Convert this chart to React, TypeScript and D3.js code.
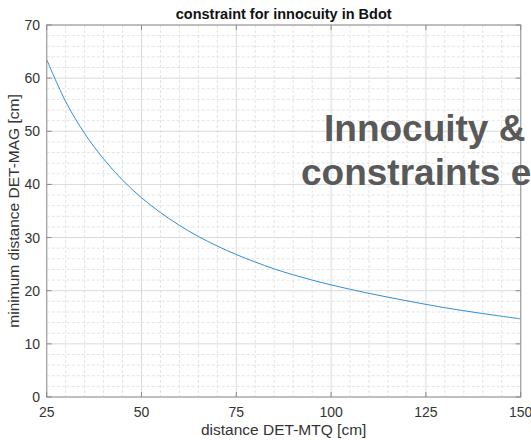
import React from "react";
import * as d3 from "d3";

const distances = [25, 30, 35, 40, 45, 50, 55, 60, 65, 70, 75, 80, 85, 90, 95, 100, 110, 120, 130, 140, 150];
const minDistances = [63.5, 55.6, 49.6, 44.8, 40.8, 37.5, 34.7, 32.3, 30.2, 28.4, 26.8, 25.4, 24.1, 23.0, 22.0, 21.1, 19.5, 18.1, 16.8, 15.7, 14.7];
const xTicks = [25, 50, 75, 100, 125, 150];
const yTicks = [0, 10, 20, 30, 40, 50, 60, 70];
const titleText = "constraint for innocuity in Bdot";
const xLabel = "distance DET-MTQ [cm]";
const yLabel = "minimum distance DET-MAG [cm]";
const overlayLines = ["Innocuity &", "constraints e"];

const W = 531;
const H = 440;
const L = 46.7, R = 520.7, T = 25, B = 397;
const FONT = "'Liberation Sans', Arial, Helvetica, sans-serif";

export default function App() {
  const x = d3.scaleLinear().domain([25, 150]).range([L, R]);
  const y = d3.scaleLinear().domain([0, 70]).range([B, T]);
  const minorX = d3.range(25, 150.01, 5).filter((v) => v % 25 !== 0);
  const minorY = d3.range(0, 70.01, 2).filter((v) => v % 10 !== 0);
  const line = d3
    .line<number>()
    .x((_, i) => x(distances[i]))
    .y((d) => y(d))
    .curve(d3.curveCatmullRom.alpha(0.5));

  return (
    <svg
      width={W}
      height={H}
      style={{ position: "absolute", left: 0, top: 0, background: "#fff" }}
      fontFamily={FONT}
    >
      <rect x={0} y={0} width={W} height={H} fill="#fff" />
      {/* minor grid */}
      {minorX.map((v) => (
        <line key={"mx" + v} x1={x(v)} x2={x(v)} y1={T} y2={B} stroke="#e3e3e3" strokeWidth={1} strokeDasharray="3,2" />
      ))}
      {minorY.map((v) => (
        <line key={"my" + v} x1={L} x2={R} y1={y(v)} y2={y(v)} stroke="#e3e3e3" strokeWidth={1} strokeDasharray="3,2" />
      ))}
      {/* major grid */}
      {xTicks.map((v) => (
        <line key={"gx" + v} x1={x(v)} x2={x(v)} y1={T} y2={B} stroke="#dadada" strokeWidth={1} />
      ))}
      {yTicks.map((v) => (
        <line key={"gy" + v} x1={L} x2={R} y1={y(v)} y2={y(v)} stroke="#dadada" strokeWidth={1} />
      ))}
      {/* curve */}
      <path d={line(minDistances) || ""} fill="none" stroke="#2f8fd3" strokeWidth={1} />
      {/* box */}
      <rect x={L} y={T} width={R - L} height={B - T} fill="none" stroke="#a0a0a0" strokeWidth={1.2} />
      {/* ticks */}
      {xTicks.map((v) => (
        <g key={"tx" + v}>
          <line x1={x(v)} x2={x(v)} y1={B} y2={B - 5} stroke="#8a8a8a" />
          <line x1={x(v)} x2={x(v)} y1={T} y2={T + 5} stroke="#8a8a8a" />
          <text x={x(v)} y={417} textAnchor="middle" fontSize={14} fill="#333">
            {v}
          </text>
        </g>
      ))}
      {yTicks.map((v) => (
        <g key={"ty" + v}>
          <line x1={L} x2={L + 5} y1={y(v)} y2={y(v)} stroke="#8a8a8a" />
          <line x1={R} x2={R - 5} y1={y(v)} y2={y(v)} stroke="#8a8a8a" />
          <text x={40} y={y(v) + 5} textAnchor="end" fontSize={14} fill="#333">
            {v}
          </text>
        </g>
      ))}
      {/* labels */}
      <text x={(L + R) / 2} y={19} textAnchor="middle" fontSize={14.5} fontWeight="bold" fill="#111">
        {titleText}
      </text>
      <text x={(L + R) / 2} y={435} textAnchor="middle" fontSize={15.5} fill="#333">
        {xLabel}
      </text>
      <text
        transform={`translate(19, ${(T + B) / 2}) rotate(-90)`}
        textAnchor="middle"
        fontSize={15.5}
        fill="#333"
      >
        {yLabel}
      </text>
      {/* overlay slide text */}
      <text x={324} y={141} fontSize={37} fontWeight="bold" fill="#595959">
        {overlayLines[0]}
      </text>
      <text x={301} y={185} fontSize={37} fontWeight="bold" fill="#595959">
        {overlayLines[1]}
      </text>
    </svg>
  );
}
